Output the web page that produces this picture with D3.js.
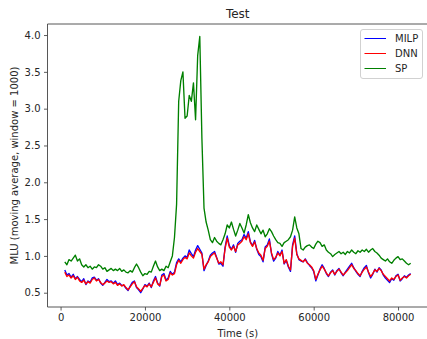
<!DOCTYPE html>
<html><head><meta charset="utf-8">
<script src="https://cdn.jsdelivr.net/npm/d3@7"></script>
<style>html,body{margin:0;padding:0;background:#fff;overflow:hidden}svg{display:block;font-family:"DejaVu Sans",sans-serif}</style>
</head><body>
<svg id="chart" width="427" height="339"></svg>
<script>
// ---- data ----
const title = "Test";
const xLabel = "Time (s)";
const yLabel = "MLU (moving average, window = 1000)";
const seriesNames = ["MILP", "DNN", "SP"];
const seriesColors = ["blue", "red", "green"];
const xTicks = [0, 20000, 40000, 60000, 80000];
const yTicks = [0.5, 1.0, 1.5, 2.0, 2.5, 3.0, 3.5, 4.0];
const timeStart = 1000, timeStep = 500, timeEnd = 83000;

const milp = [
  0.81,0.74,0.76,0.71,0.75,0.69,0.72,0.68,0.65,0.69,
  0.61,0.66,0.64,0.70,0.71,0.67,0.69,0.63,0.60,0.64,
  0.68,0.65,0.66,0.63,0.66,0.61,0.63,0.60,0.60,0.56,
  0.53,0.59,0.64,0.66,0.57,0.54,0.50,0.55,0.61,0.59,
  0.63,0.57,0.66,0.72,0.63,0.59,0.74,0.76,0.67,0.70,
  0.79,0.75,0.78,0.91,0.96,0.92,0.97,1.00,0.98,1.08,
  1.03,0.99,1.08,1.14,1.09,1.04,0.80,0.87,0.93,1.01,
  1.04,1.06,0.98,0.89,0.90,0.86,1.12,1.27,1.14,1.09,
  1.15,1.05,1.17,1.20,1.22,1.29,1.24,1.33,1.19,1.14,
  1.21,1.09,1.02,0.99,0.92,1.12,1.15,1.23,1.03,0.93,
  0.97,1.06,1.01,1.08,0.89,0.94,0.85,0.79,1.15,1.27,
  1.03,0.95,0.93,0.92,0.96,0.91,0.87,0.84,0.79,0.66,
  0.74,0.82,0.88,0.83,0.76,0.72,0.78,0.81,0.74,0.80,
  0.83,0.77,0.73,0.78,0.82,0.86,0.90,0.84,0.79,0.75,
  0.72,0.79,0.84,0.87,0.77,0.70,0.75,0.82,0.78,0.84,
  0.81,0.74,0.70,0.67,0.64,0.69,0.67,0.73,0.75,0.66,
  0.69,0.73,0.71,0.74,0.76
];
const dnn = [
  0.78,0.72,0.74,0.70,0.73,0.68,0.71,0.66,0.64,0.67,
  0.62,0.65,0.63,0.68,0.70,0.66,0.68,0.64,0.61,0.63,
  0.66,0.64,0.65,0.62,0.64,0.60,0.62,0.59,0.61,0.57,
  0.54,0.58,0.62,0.65,0.58,0.55,0.52,0.56,0.60,0.58,
  0.62,0.58,0.64,0.70,0.62,0.60,0.72,0.74,0.66,0.68,
  0.77,0.74,0.76,0.88,0.94,0.90,0.95,0.98,0.96,1.04,
  1.00,0.97,1.05,1.10,1.06,1.02,0.82,0.88,0.92,0.99,
  1.02,1.04,0.97,0.90,0.92,0.88,1.10,1.24,1.12,1.08,
  1.13,1.06,1.15,1.17,1.20,1.26,1.22,1.30,1.18,1.13,
  1.19,1.10,1.04,1.01,0.94,1.10,1.13,1.20,1.04,0.95,
  0.98,1.04,1.00,1.06,0.90,0.95,0.86,0.81,1.13,1.24,
  1.02,0.96,0.94,0.92,0.95,0.90,0.88,0.85,0.80,0.68,
  0.75,0.81,0.86,0.82,0.77,0.73,0.77,0.80,0.75,0.79,
  0.82,0.78,0.74,0.77,0.80,0.84,0.88,0.83,0.80,0.76,
  0.73,0.78,0.82,0.85,0.78,0.72,0.76,0.81,0.79,0.83,
  0.80,0.75,0.72,0.69,0.66,0.70,0.68,0.72,0.74,0.67,
  0.70,0.72,0.70,0.73,0.75
];
const sp = [
  0.92,0.88,0.95,0.93,0.97,1.01,0.93,0.96,0.88,0.85,
  0.88,0.84,0.86,0.82,0.85,0.84,0.88,0.86,0.82,0.84,
  0.79,0.81,0.83,0.80,0.82,0.80,0.83,0.79,0.81,0.78,
  0.77,0.80,0.78,0.84,0.89,0.84,0.78,0.73,0.76,0.75,
  0.79,0.78,0.86,0.93,0.85,0.80,0.82,0.80,0.86,0.84,
  0.92,1.00,1.25,1.70,3.10,3.38,3.50,2.87,2.90,3.18,
  3.10,3.35,2.85,3.72,3.98,2.60,1.65,1.46,1.35,1.22,
  1.18,1.25,1.20,1.17,1.15,1.22,1.30,1.42,1.38,1.46,
  1.36,1.27,1.35,1.44,1.38,1.31,1.42,1.56,1.45,1.38,
  1.33,1.42,1.36,1.30,1.35,1.26,1.30,1.37,1.33,1.27,
  1.22,1.18,1.17,1.13,1.18,1.20,1.22,1.26,1.35,1.53,
  1.38,1.30,1.10,1.08,1.12,1.14,1.15,1.12,1.10,1.16,
  1.20,1.18,1.13,1.15,1.08,1.05,1.03,0.99,1.02,1.04,
  1.06,1.03,1.05,1.02,1.06,1.04,1.08,1.05,1.03,1.07,
  1.05,1.08,1.06,1.09,1.05,1.08,1.10,1.06,1.04,1.01,
  0.97,0.95,0.93,0.96,0.92,0.90,0.94,0.97,0.99,0.95,
  0.96,0.93,0.90,0.88,0.90
];
const seriesValues = [milp, dnn, sp];

// ---- layout ----
const W = 427, H = 339;
const ax = {left: 47.5, right: 428, top: 24, bottom: 307};
const times = d3.range(timeStart, timeEnd + 1, timeStep);

const x = d3.scaleLinear().domain([-3100, 87100]).range([ax.left, ax.right]);
const y = d3.scaleLinear().domain([0.306, 4.15]).range([ax.bottom, ax.top]);

const svg = d3.select("#chart");
const textColor = "#262626";

svg.append("defs").append("clipPath").attr("id", "clip")
  .append("rect").attr("x", ax.left).attr("y", ax.top)
  .attr("width", ax.right - ax.left).attr("height", ax.bottom - ax.top);

// lines
const line = d3.line().x((d, i) => x(times[i])).y(d => y(d));
const plot = svg.append("g").attr("clip-path", "url(#clip)");
seriesValues.forEach((vals, k) => {
  plot.append("path").datum(vals)
    .attr("fill", "none")
    .attr("stroke", seriesColors[k])
    .attr("stroke-width", 1.35)
    .attr("stroke-linejoin", "round")
    .attr("d", line);
});

// axes
const xAxis = d3.axisBottom(x).tickValues(xTicks).tickFormat(d3.format("d")).tickSizeOuter(0).tickSize(3.5).tickPadding(3.5);
const yAxis = d3.axisLeft(y).tickValues(yTicks).tickFormat(d3.format(".1f")).tickSizeOuter(0).tickSize(3.5).tickPadding(3.5);

const gx = svg.append("g").attr("transform", `translate(0,${ax.bottom})`).call(xAxis);
const gy = svg.append("g").attr("transform", `translate(${ax.left},0)`).call(yAxis);
[gx, gy].forEach(g => {
  g.select(".domain").remove();
  g.selectAll(".tick line").attr("stroke", "#333").attr("stroke-width", 0.8);
  g.selectAll(".tick text").attr("fill", textColor).style("font-size", "10px").style("font-family", "DejaVu Sans");
});

// spines (left, bottom, top; right lies beyond the view)
const spine = svg.append("g").attr("stroke", "#444").attr("stroke-width", 0.9).attr("fill", "none");
spine.append("line").attr("x1", ax.left).attr("x2", ax.left).attr("y1", ax.top).attr("y2", ax.bottom);
spine.append("line").attr("x1", ax.left).attr("x2", ax.right).attr("y1", ax.bottom).attr("y2", ax.bottom);
spine.append("line").attr("x1", ax.left).attr("x2", ax.right).attr("y1", ax.top).attr("y2", ax.top);
spine.append("line").attr("x1", ax.right).attr("x2", ax.right).attr("y1", ax.top).attr("y2", ax.bottom);

// title & labels
svg.append("text").attr("x", (ax.left + ax.right) / 2).attr("y", 17.5)
  .attr("text-anchor", "middle").attr("fill", textColor).style("font-size", "12px").text(title);
svg.append("text").attr("x", (ax.left + ax.right) / 2).attr("y", 337)
  .attr("text-anchor", "middle").attr("fill", textColor).style("font-size", "10px").text(xLabel);
svg.append("text").attr("transform", `translate(17.5,${(ax.top + ax.bottom) / 2}) rotate(-90)`)
  .attr("text-anchor", "middle").attr("fill", textColor).style("font-size", "10px").text(yLabel);

// legend
const lg = svg.append("g");
lg.append("rect").attr("x", 360.5).attr("y", 29.5).attr("width", 62).attr("height", 49)
  .attr("rx", 2.5).attr("fill", "white").attr("fill-opacity", 0.8)
  .attr("stroke", "#cccccc").attr("stroke-width", 0.9);
seriesNames.forEach((name, k) => {
  const yy = 38.5 + k * 15;
  lg.append("line").attr("x1", 364.5).attr("x2", 386).attr("y1", yy).attr("y2", yy)
    .attr("stroke", seriesColors[k]).attr("stroke-width", 1.05);
  lg.append("text").attr("x", 395).attr("y", yy).attr("dy", "0.36em")
    .attr("fill", textColor).style("font-size", "10px").text(name);
});
</script>
</body></html>
